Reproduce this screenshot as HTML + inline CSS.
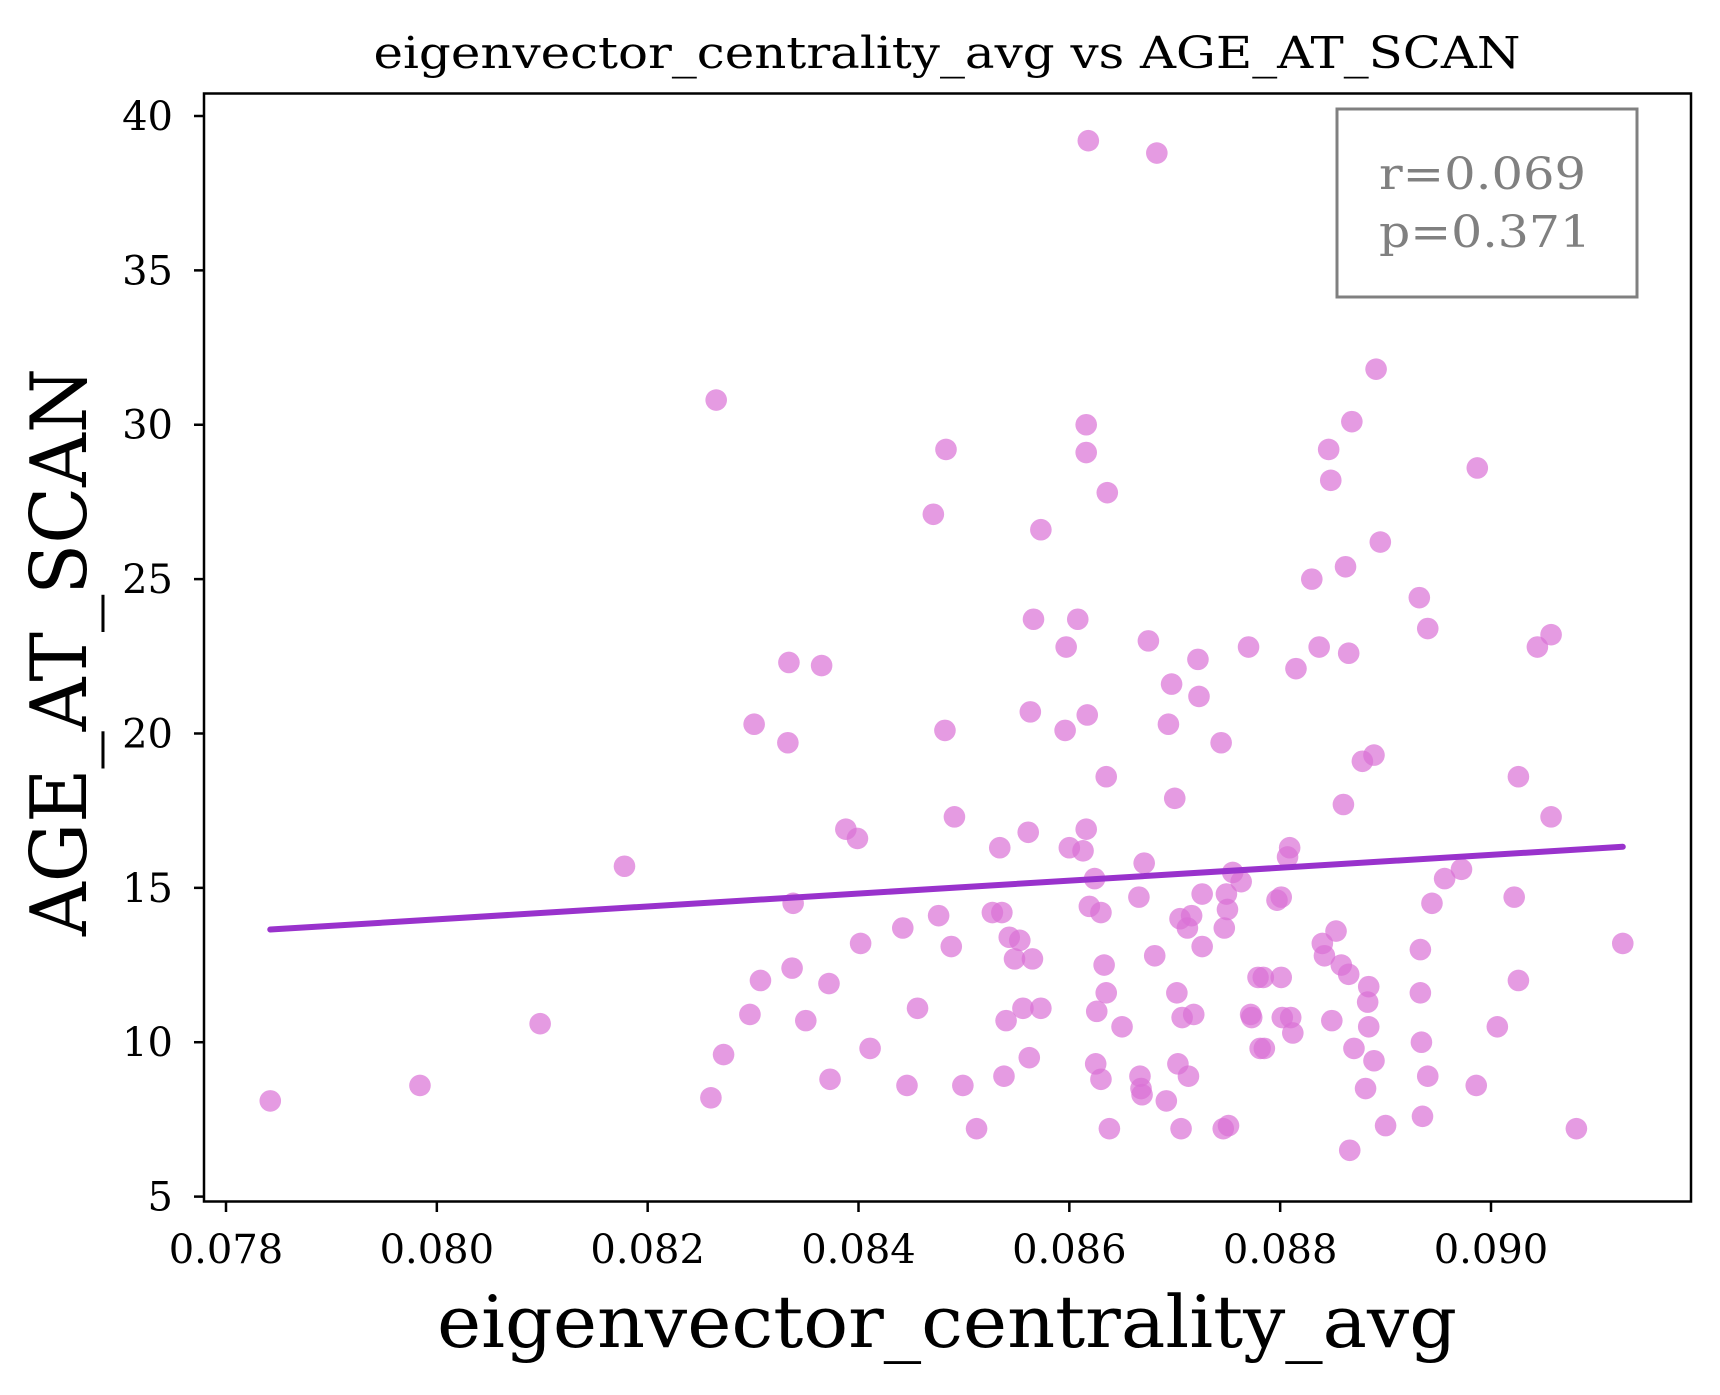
<!DOCTYPE html>
<html><head><meta charset="utf-8"><style>
html,body{margin:0;padding:0;background:#fff;}
svg{display:block;font-family:"DejaVu Serif","Liberation Serif",serif;}
</style></head><body>
<svg id="chart" width="1720" height="1395" viewBox="0 0 1720 1395" xmlns="http://www.w3.org/2000/svg">
<rect width="1720" height="1395" fill="#fff"/>
<text x="947" y="68" font-size="44" text-anchor="middle" textLength="1147" lengthAdjust="spacingAndGlyphs">eigenvector_centrality_avg vs AGE_AT_SCAN</text>
<g id="points"></g>
<g id="fit"></g>
<g id="xticks"></g>
<g id="yticks"></g>
<rect x="204" y="93.5" width="1487" height="1108" fill="none" stroke="#000" stroke-width="2.5"/>
<text x="947" y="1347" font-size="72" text-anchor="middle" textLength="1020" lengthAdjust="spacingAndGlyphs">eigenvector_centrality_avg</text>
<text transform="translate(86,652) rotate(-90)" font-size="78" text-anchor="middle" textLength="568" lengthAdjust="spacingAndGlyphs">AGE_AT_SCAN</text>
<g>
<rect x="1337" y="109" width="300" height="188" fill="#fff" stroke="#808080" stroke-width="3"/>
<text x="1379" y="189" font-size="44" fill="#808080" textLength="207" lengthAdjust="spacingAndGlyphs">r=0.069</text>
<text x="1379" y="247" font-size="44" fill="#808080" textLength="212" lengthAdjust="spacingAndGlyphs">p=0.371</text>
</g>
</svg>
<script>
const xVals=[0.07842,0.07984,0.08098,0.08178,0.08260,0.08265,0.08272,0.08297,0.08301,0.08307,0.08333,0.08334,0.08338,0.08337,0.08350,0.08365,0.08372,0.08373,0.08388,0.08399,0.08402,0.08411,0.08442,0.08446,0.08456,0.08471,0.08476,0.08482,0.08483,0.08488,0.08491,0.08499,0.08512,0.08527,0.08534,0.08536,0.08538,0.08540,0.08543,0.08548,0.08553,0.08556,0.08561,0.08562,0.08563,0.08565,0.08566,0.08573,0.08573,0.08596,0.08597,0.08600,0.08608,0.08613,0.08616,0.08616,0.08617,0.08616,0.08618,0.08619,0.08624,0.08625,0.08626,0.08630,0.08630,0.08633,0.08635,0.08635,0.08636,0.08638,0.08650,0.08666,0.08667,0.08668,0.08669,0.08671,0.08675,0.08681,0.08683,0.08692,0.08694,0.08697,0.08700,0.08702,0.08703,0.08705,0.08706,0.08707,0.08712,0.08713,0.08716,0.08718,0.08722,0.08723,0.08726,0.08726,0.08744,0.08746,0.08747,0.08749,0.08750,0.08751,0.08755,0.08763,0.08770,0.08772,0.08773,0.08779,0.08781,0.08784,0.08785,0.08797,0.08801,0.08801,0.08802,0.08807,0.08809,0.08810,0.08812,0.08815,0.08830,0.08837,0.08840,0.08842,0.08846,0.08848,0.08849,0.08853,0.08858,0.08860,0.08862,0.08865,0.08865,0.08866,0.08868,0.08870,0.08878,0.08881,0.08883,0.08884,0.08884,0.08889,0.08889,0.08891,0.08895,0.08900,0.08932,0.08933,0.08933,0.08934,0.08935,0.08940,0.08940,0.08944,0.08956,0.08972,0.08986,0.08987,0.09006,0.09022,0.09026,0.09026,0.09044,0.09057,0.09057,0.09081,0.09125];
const yVals=[8.1,8.6,10.6,15.7,8.2,30.8,9.6,10.9,20.3,12.0,19.7,22.3,14.5,12.4,10.7,22.2,11.9,8.8,16.9,16.6,13.2,9.8,13.7,8.6,11.1,27.1,14.1,20.1,29.2,13.1,17.3,8.6,7.2,14.2,16.3,14.2,8.9,10.7,13.4,12.7,13.3,11.1,16.8,9.5,20.7,12.7,23.7,26.6,11.1,20.1,22.8,16.3,23.7,16.2,16.9,29.1,20.6,30.0,39.2,14.4,15.3,9.3,11.0,14.2,8.8,12.5,11.6,18.6,27.8,7.2,10.5,14.7,8.9,8.5,8.3,15.8,23.0,12.8,38.8,8.1,20.3,21.6,17.9,11.6,9.3,14.0,7.2,10.8,13.7,8.9,14.1,10.9,22.4,21.2,13.1,14.8,19.7,7.2,13.7,14.8,14.3,7.3,15.5,15.2,22.8,10.9,10.8,12.1,9.8,12.1,9.8,14.6,12.1,14.7,10.8,16.0,16.3,10.8,10.3,22.1,25.0,22.8,13.2,12.8,29.2,28.2,10.7,13.6,12.5,17.7,25.4,22.6,12.2,6.5,30.1,9.8,19.1,8.5,11.3,11.8,10.5,19.3,9.4,31.8,26.2,7.3,24.4,13.0,11.6,10.0,7.6,23.4,8.9,14.5,15.3,15.6,8.6,28.6,10.5,14.7,18.6,12.0,22.8,17.3,23.2,7.2,13.2];
const fitX=[0.07842,0.09125];
const fitY=[13.65,16.33];
const xTicks=[0.078,0.080,0.082,0.084,0.086,0.088,0.090];
const xTickLabels=["0.078","0.080","0.082","0.084","0.086","0.088","0.090"];
const yTicks=[5,10,15,20,25,30,35,40];
const yTickLabels=["5","10","15","20","25","30","35","40"];

const NS="http://www.w3.org/2000/svg";
function sx(v){return 226+(v-0.078)/0.012*1265;}
function sy(v){return 1196.6-(v-5)/35*1080.6;}
function mk(tag,attrs,parent){const e=document.createElementNS(NS,tag);for(const k in attrs)e.setAttribute(k,attrs[k]);parent.appendChild(e);return e;}

const gp=document.getElementById('points');
for(let i=0;i<xVals.length;i++){
  const c=mk('circle',{cx:sx(xVals[i]),cy:sy(yVals[i]),r:10.8,fill:'#da70d6','fill-opacity':0.7},gp);
  
  
}
const gf=document.getElementById('fit');
const ln=mk('line',{x1:sx(fitX[0]),y1:sy(fitY[0]),x2:sx(fitX[1]),y2:sy(fitY[1]),stroke:'#9932cc','stroke-width':6,'stroke-linecap':'round'},gf);



const gx=document.getElementById('xticks');
xTicks.forEach((v,i)=>{
  const t=mk('line',{x1:sx(v),x2:sx(v),y1:1202,y2:1212,stroke:'#000','stroke-width':2.5},gx);
  
  
  const l=mk('text',{x:sx(v),y:1263,'font-size':40,'text-anchor':'middle'},gx);
  l.textContent=xTickLabels[i];
  
  
});
const gy=document.getElementById('yticks');
yTicks.forEach((v,i)=>{
  const t=mk('line',{x1:194,x2:204,y1:sy(v),y2:sy(v),stroke:'#000','stroke-width':2.5},gy);
  
  
  const l=mk('text',{x:173,y:sy(v)+14,'font-size':40,'text-anchor':'end'},gy);
  l.textContent=yTickLabels[i];
  
  
});
</script>
</body></html>
